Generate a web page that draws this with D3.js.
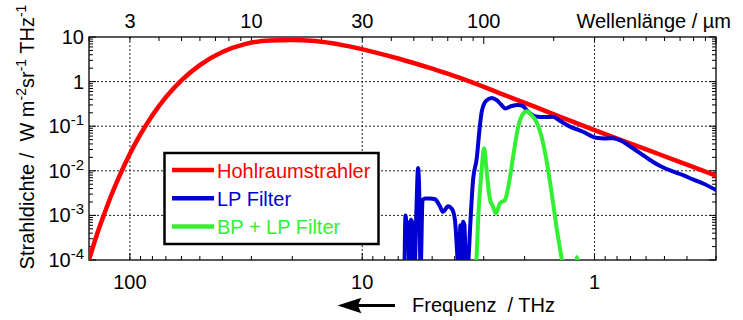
<!DOCTYPE html>
<html>
<head>
    <meta charset="utf-8">
    <title>Hohlraumstrahler</title>
    <style>
        body { margin: 0; background: #fff; }
        text { font-family: "Liberation Sans", Arial, sans-serif; font-size: 20px; fill: #000; white-space: pre; }
        .grid { stroke: #222; stroke-width: 1; stroke-dasharray: 2,2; }
        .tick { stroke: #000; stroke-width: 1; }
    </style>
</head>
<body>
    <svg id="chart" width="743" height="320"></svg>
    <script src="https://d3js.org/d3.v7.min.js"></script>
    <script>
        // values (frequency in THz, radiance in W m^-2 sr^-1 THz^-1)
        const bbFreq = [150, 140, 130, 120, 110, 100, 90, 80, 70, 60, 50, 40, 32, 25, 20, 16, 12, 9, 7, 5, 4.2, 3.43, 2.5, 1.8, 1.3, 1.0, 0.7, 0.5, 0.4, 0.3];
        const bbVal = [1.0e-4, 3.2e-4, 9.6e-4, 2.9e-3, 8.4e-3, 0.024, 0.066, 0.176, 0.45, 1.07, 2.35, 4.6, 6.9, 8.4, 8.6, 8.1, 6.5, 4.65, 3.3, 1.95, 1.46, 1.0, 0.526, 0.27, 0.139, 0.082, 0.0408, 0.0212, 0.0137, 0.0078];

        const lpFreq = [6.58, 6.51, 6.42, 6.35, 6.26, 6.17, 6.05, 5.96, 5.84, 5.75, 5.67, 5.61, 5.50, 5.37, 5.11, 4.86, 4.63, 4.49, 4.27, 4.11, 3.99, 3.83, 3.78, 3.74, 3.68, 3.63, 3.57, 3.49, 3.43, 3.34, 3.21, 3.13, 3.06, 2.93, 2.77, 2.63, 2.53, 2.42, 2.29, 2.135, 2.03, 1.93, 1.79, 1.63, 1.51, 1.41, 1.275, 1.12, 0.985, 0.901, 0.833, 0.754, 0.690, 0.637, 0.577, 0.522, 0.464, 0.416, 0.377, 0.341, 0.300];
        const lpVal = [5e-5, 1.0e-3, 5e-4, 7e-4, 5e-5, 8e-4, 6e-4, 5e-5, 1.5e-3, 1.15e-2, 2e-3, 5e-5, 2.2e-3, 2.4e-3, 2.4e-3, 2.3e-3, 1.6e-3, 1.2e-3, 1.6e-3, 1.4e-3, 8e-4, 5e-5, 6e-4, 5e-5, 7.2e-4, 6e-4, 5e-5, 1e-4, 5.6e-4, 5.5e-3, 0.02, 0.08, 0.21, 0.37, 0.43, 0.38, 0.31, 0.25, 0.28, 0.30, 0.28, 0.21, 0.165, 0.16, 0.162, 0.132, 0.098, 0.075, 0.055, 0.053, 0.054, 0.045, 0.033, 0.025, 0.0175, 0.0128, 0.0098, 0.0080, 0.0064, 0.0052, 0.0037];

        const bpFreq = [3.24, 3.17, 3.07, 2.99, 2.92, 2.82, 2.74, 2.66, 2.55, 2.43, 2.35, 2.24, 2.13, 2.03, 1.96, 1.87, 1.78, 1.69, 1.61, 1.53, 1.46, 1.39, 1.35, 1.21, 1.19, 1.165];
        const bpVal = [5e-5, 8e-4, 0.009, 0.032, 0.011, 2.3e-3, 1.6e-3, 1.1e-3, 1.9e-3, 2.2e-3, 4.4e-3, 0.021, 0.098, 0.19, 0.215, 0.178, 0.126, 0.058, 0.0174, 3.2e-3, 5.8e-4, 1.2e-4, 5e-5, 5e-5, 1.15e-4, 5e-5];

        const seriesNames = ["Hohlraumstrahler", "LP Filter", "BP + LP Filter"];
        const seriesColors = ["#ff0000", "#0000d2", "#33f033"];

        const freqTicks = [100, 10, 1];
        const waveTicks = [3, 10, 30, 100];
        const yTicks = [10, 1, 0.1, 0.01, 0.001, 0.0001];
        const yExp = ["", "", "-1", "-2", "-3", "-4"];

        const pL = 89, pR = 716, pT = 37, pB = 260;
        const C = 299.79; // µm * THz

        const svg = d3.select("#chart");

        const x = d3.scaleLog().domain([150, 0.3]).range([pL, pR]);
        const y = d3.scaleLog().domain([1e-4, 10]).range([pB, pT]);
        const w = d3.scaleLog().domain([C / 150, C / 0.3]).range([pL, pR]);

        // grid
        const grid = svg.append("g");
        grid.selectAll(".gy").data(yTicks.slice(1, -1)).join("line")
            .attr("class", "grid")
            .attr("x1", pL).attr("x2", pR)
            .attr("y1", d => y(d)).attr("y2", d => y(d));
        grid.selectAll(".gx").data(freqTicks).join("line")
            .attr("class", "grid")
            .attr("x1", d => x(d)).attr("x2", d => x(d))
            .attr("y1", pT).attr("y2", pB);

        // minor/major ticks (inward)
        const ticks = svg.append("g");
        function decadeTicks(lo, hi) {
            const out = [];
            for (let e = Math.floor(Math.log10(lo)); e <= Math.ceil(Math.log10(hi)); e++) {
                for (let m = 1; m < 10; m++) {
                    const v = m * Math.pow(10, e);
                    if (v >= lo * 0.999 && v <= hi * 1.001) out.push({v: v, major: m === 1});
                }
            }
            return out;
        }
        decadeTicks(1e-4, 10).forEach(t => {
            const len = t.major ? 7 : 4;
            ticks.append("line").attr("class", "tick")
                .attr("x1", pL).attr("x2", pL + len).attr("y1", y(t.v)).attr("y2", y(t.v));
            ticks.append("line").attr("class", "tick")
                .attr("x1", pR).attr("x2", pR - len).attr("y1", y(t.v)).attr("y2", y(t.v));
        });
        decadeTicks(0.3, 150).forEach(t => {
            const len = t.major ? 7 : 4;
            ticks.append("line").attr("class", "tick")
                .attr("x1", x(t.v)).attr("x2", x(t.v)).attr("y1", pB).attr("y2", pB - len);
        });
        decadeTicks(C / 150, C / 0.3).forEach(t => {
            const len = t.major ? 7 : 4;
            ticks.append("line").attr("class", "tick")
                .attr("x1", w(t.v)).attr("x2", w(t.v)).attr("y1", pT).attr("y2", pT + len);
        });

        // frame
        svg.append("rect")
            .attr("x", pL).attr("y", pT)
            .attr("width", pR - pL).attr("height", pB - pT)
            .attr("fill", "none").attr("stroke", "#000").attr("stroke-width", 1.3);

        // curves
        svg.append("clipPath").attr("id", "plotclip")
            .append("rect").attr("x", pL).attr("y", pT)
            .attr("width", pR - pL).attr("height", pB - pT);

        const line = d3.line()
            .x(d => x(d[0]))
            .y(d => y(d[1]))
            .curve(d3.curveMonotoneX);

        const series = [
            d3.zip(bbFreq, bbVal),
            d3.zip(lpFreq, lpVal),
            d3.zip(bpFreq, bpVal)
        ];
        const widths = [4.5, 4, 4];
        const plot = svg.append("g").attr("clip-path", "url(#plotclip)");
        series.forEach((s, i) => {
            plot.append("path")
                .datum(s)
                .attr("d", line)
                .attr("fill", "none")
                .attr("stroke", seriesColors[i])
                .attr("stroke-width", widths[i])
                .attr("stroke-linejoin", "round")
                .attr("stroke-linecap", "round");
        });

        // y tick labels
        yTicks.forEach((v, i) => {
            const t = svg.append("text")
                .attr("x", 84).attr("y", y(v) + 7)
                .attr("text-anchor", "end");
            t.append("tspan").text(v === 1 ? "1" : "10");
            if (yExp[i]) {
                t.append("tspan").attr("dy", -8).style("font-size", "15px").text(yExp[i]);
            }
        });

        // bottom tick labels
        svg.selectAll(".xl").data(freqTicks).join("text")
            .attr("x", d => x(d)).attr("y", 289)
            .attr("text-anchor", "middle")
            .text(d => d);

        // top tick labels
        svg.selectAll(".wl").data(waveTicks).join("text")
            .attr("x", d => w(d)).attr("y", 28)
            .attr("text-anchor", "middle")
            .text(d => d);
        svg.append("text").attr("x", 731).attr("y", 28)
            .attr("text-anchor", "end")
            .text("Wellenlänge / µm");

        // x title + arrow
        svg.append("text").attr("x", 412).attr("y", 312)
            .text("Frequenz  / THz");
        svg.append("line")
            .attr("x1", 395).attr("x2", 350).attr("y1", 305.5).attr("y2", 305.5)
            .attr("stroke", "#000").attr("stroke-width", 3);
        svg.append("path")
            .attr("d", "M340,305.5 L360,299 L357,305.5 L360,312 Z")
            .attr("fill", "#000").attr("stroke", "#000").attr("stroke-width", 1.5)
            .attr("stroke-linejoin", "miter");

        // y title
        const yl = svg.append("text")
            .attr("transform", "translate(34,137) rotate(-90)")
            .attr("text-anchor", "middle");
        yl.append("tspan").text("Strahldichte /  W m");
        yl.append("tspan").attr("dy", -8).style("font-size", "14px").text("-2");
        yl.append("tspan").attr("dy", 8).text("sr");
        yl.append("tspan").attr("dy", -8).style("font-size", "14px").text("-1");
        yl.append("tspan").attr("dy", 8).text(" THz");
        yl.append("tspan").attr("dy", -8).style("font-size", "14px").text("-1");

        // legend
        const lg = svg.append("g");
        lg.append("rect")
            .attr("x", 164.5).attr("y", 153)
            .attr("width", 214).attr("height", 91)
            .attr("fill", "#fff").attr("stroke", "#000").attr("stroke-width", 2.5);
        seriesNames.forEach((n, i) => {
            const ry = 170 + i * 28.3;
            lg.append("line")
                .attr("x1", 172).attr("x2", 214).attr("y1", ry).attr("y2", ry)
                .attr("stroke", seriesColors[i]).attr("stroke-width", 4.5);
            lg.append("text")
                .attr("x", 217).attr("y", ry + 7.5)
                .style("fill", seriesColors[i])
                .text(n);
        });
    </script>
</body>
</html>
